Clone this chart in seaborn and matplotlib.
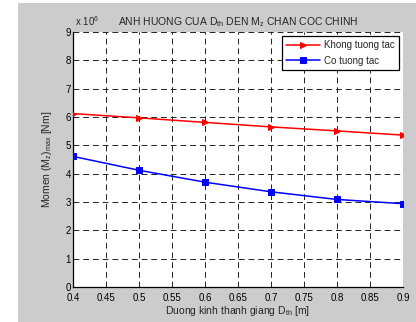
import matplotlib
matplotlib.use("Agg")
import matplotlib.pyplot as plt
import seaborn as sns
import pandas as pd
from matplotlib.patches import Rectangle

# Bar diameter D_th [m]
diameters = [0.4, 0.5, 0.6, 0.7, 0.8, 0.9]
# Max moment at main pile toe (x 1e6 Nm)
khong_tuong_tac = [6.12, 5.97, 5.81, 5.65, 5.51, 5.36]
co_tuong_tac = [4.61, 4.12, 3.70, 3.36, 3.09, 2.94]
series_names = ["Khong tuong tac", "Co tuong tac"]

x_ticks = [0.4, 0.45, 0.5, 0.55, 0.6, 0.65, 0.7, 0.75, 0.8, 0.85, 0.9]
x_tick_labels = ["0.4", "0.45", "0.5", "0.55", "0.6", "0.65", "0.7", "0.75", "0.8", "0.85", "0.9"]
y_ticks = [0, 1, 2, 3, 4, 5, 6, 7, 8, 9]

sns.set_style("white")
plt.rcParams["font.family"] = ["Liberation Sans", "DejaVu Sans"]
plt.rcParams["mathtext.fontset"] = "custom"
plt.rcParams["mathtext.rm"] = "Liberation Sans"
plt.rcParams["mathtext.it"] = "Liberation Sans"

W, H = 416, 322
fig = plt.figure(figsize=(W / 100, H / 100), dpi=100, facecolor="white")
# grey figure panel
fig.patches.append(Rectangle((18 / W, 0), (W - 18) / W, (H - 3) / H,
                             transform=fig.transFigure, facecolor="#cccccc",
                             edgecolor="none", zorder=-10))

ax = fig.add_axes([73 / W, 1 - 287 / H, (403 - 73) / W, (287 - 32) / H])
ax.set_zorder(1)
ax.set_facecolor("white")

df = pd.DataFrame({
    "D": diameters * 2,
    "M": khong_tuong_tac + co_tuong_tac,
    "series": [series_names[0]] * len(diameters) + [series_names[1]] * len(diameters),
})

sns.lineplot(data=df[df.series == series_names[0]], x="D", y="M", ax=ax,
             color="red", marker=">", markersize=4.5, markeredgecolor="red",
             linewidth=1.1, label=series_names[0], zorder=4)
sns.lineplot(data=df[df.series == series_names[1]], x="D", y="M", ax=ax,
             color="blue", marker="s", markersize=5, markeredgecolor="blue",
             linewidth=1.1, label=series_names[1], zorder=4)

ax.set_xlim(0.4, 0.9)
ax.set_ylim(0, 9)
ax.set_xticks(x_ticks)
ax.set_xticklabels(x_tick_labels)
ax.set_yticks(y_ticks)

ax.grid(True, color="#222222", linestyle=(0, (6, 4)), linewidth=0.7)
for side in ["top", "right"]:
    ax.spines[side].set_visible(False)
for side in ["left", "bottom"]:
    ax.spines[side].set_color("black")
    ax.spines[side].set_linewidth(0.9)

ax.tick_params(axis="both", direction="in", length=3, width=0.7,
               labelsize=7, colors="black", pad=1.5)
ax.tick_params(axis="x", pad=4.5)

ax.set_title(r"ANH HUONG CUA D$_{\rm th}$ DEN M$_{\rm z}$ CHAN COC CHINH",
             fontsize=7.5, pad=5)
ax.set_xlabel(r"Duong kinh thanh giang D$_{\rm th}$ [m]", fontsize=7.5, labelpad=0.5)
ax.set_ylabel(r"Momen (M$_{\rm z}$)$_{\rm max}$ [Nm]", fontsize=7.5, labelpad=8)
ax.text(0.005, 1.015, r"x 10$^{6}$", transform=ax.transAxes, fontsize=7,
        ha="left", va="bottom")

leg = ax.legend(loc="upper right", fontsize=7, frameon=True, fancybox=False,
                edgecolor="black", framealpha=1, borderaxespad=0.4,
                handlelength=3.5, borderpad=0.45, labelspacing=0.55,
                handletextpad=0.4)
leg.get_frame().set_linewidth(0.9)

fig.savefig("out.png", dpi=100, facecolor=fig.get_facecolor())
